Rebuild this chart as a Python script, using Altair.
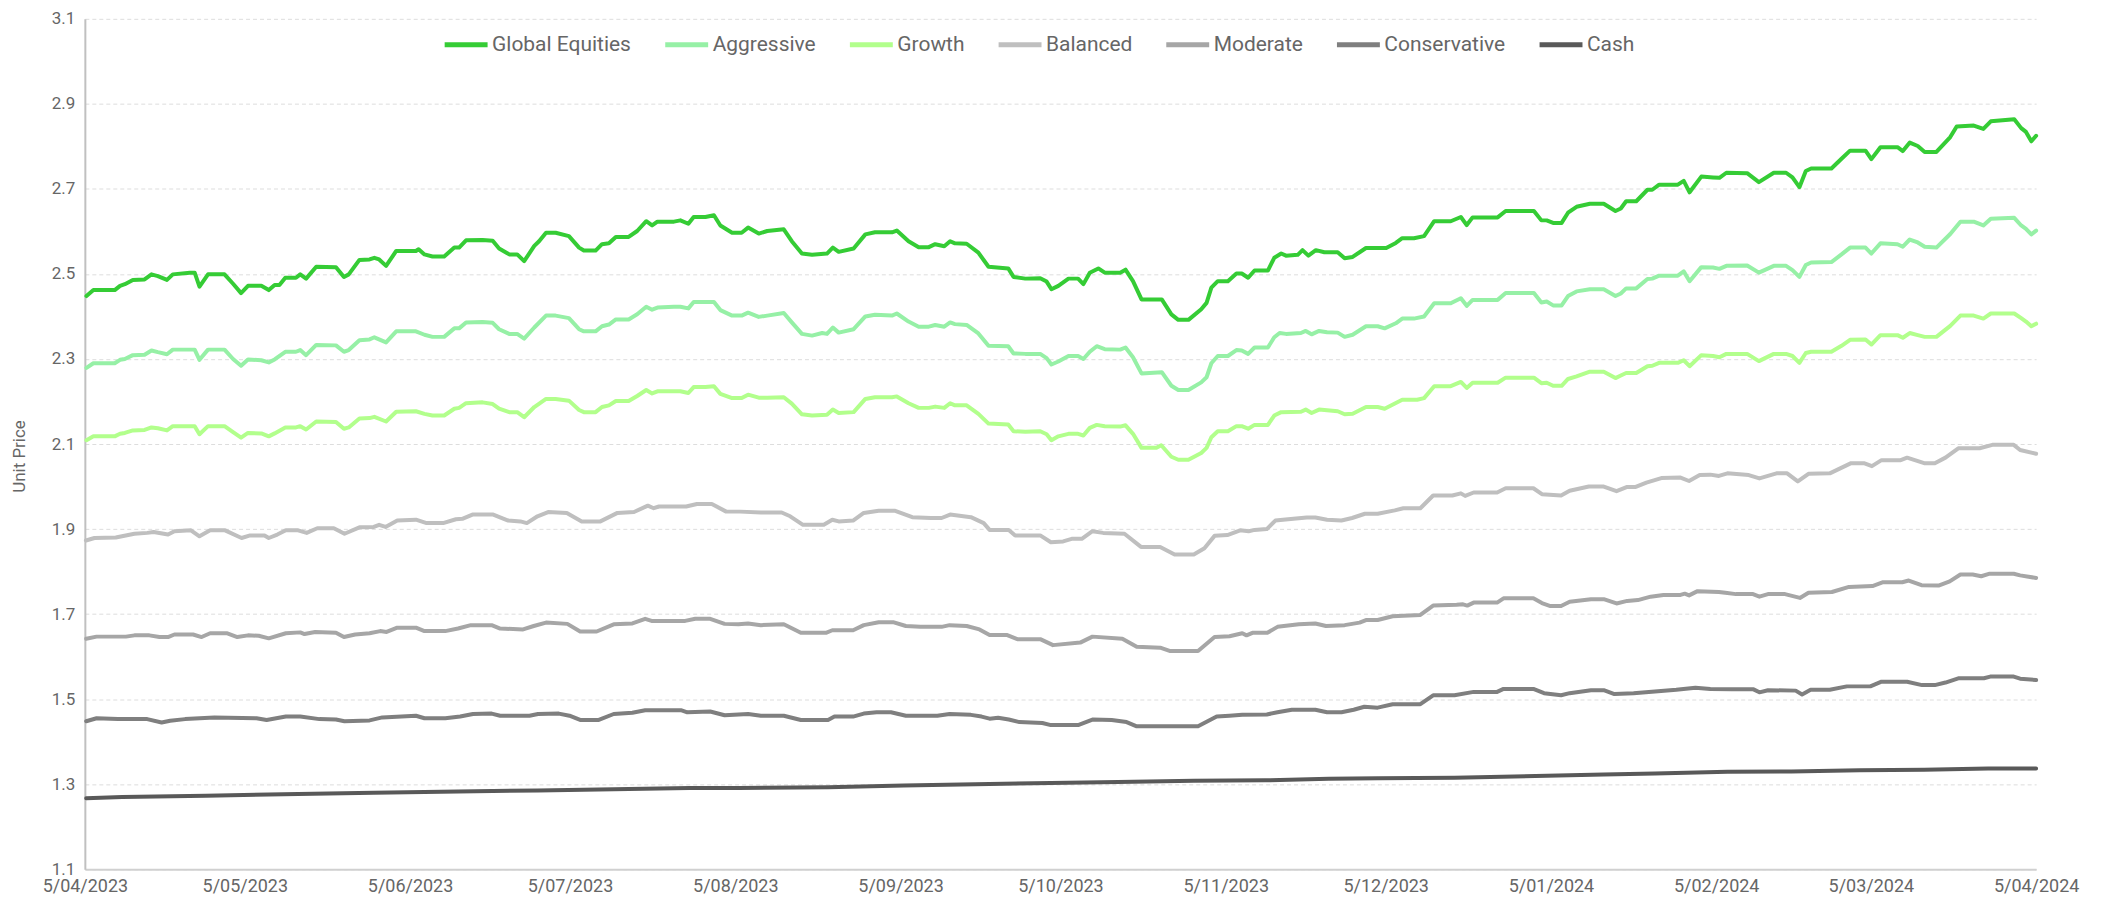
import altair as alt
import pandas as pd

# ---- data (day offset from 5/04/2023, unit price) ----
SERIES = ["Global Equities", "Aggressive", "Growth", "Balanced", "Moderate", "Conservative", "Cash"]
COLORS = ["#35CC35", "#96F0A6", "#B2FF8C", "#BFBFBF", "#A6A6A6", "#7F7F7F", "#595959"]
TICK_DATES = ["2023-04-05", "2023-05-05", "2023-06-05", "2023-07-05", "2023-08-05", "2023-09-05",
              "2023-10-05", "2023-11-05", "2023-12-05", "2024-01-05", "2024-02-05", "2024-03-05", "2024-04-05"]
Y_TICKS = [1.1, 1.3, 1.5, 1.7, 1.9, 2.1, 2.3, 2.5, 2.7, 2.9, 3.1]

global_equities = [
    (0.3, 2.448), (1.6, 2.462), (5.6, 2.462), (6.6, 2.472), (7.5, 2.476), (9.0, 2.486), (11.2, 2.487),
    (12.5, 2.499), (13.7, 2.495), (15.4, 2.486), (16.5, 2.499), (19.7, 2.503), (20.6, 2.503), (21.5, 2.470),
    (23.1, 2.499), (26.2, 2.499), (27.8, 2.477), (29.3, 2.455), (30.6, 2.472), (33.1, 2.472), (34.5, 2.462),
    (35.6, 2.474), (36.5, 2.474), (37.6, 2.491), (39.6, 2.491), (40.4, 2.499), (41.5, 2.489), (43.4, 2.517),
    (47.1, 2.516), (48.6, 2.493), (49.5, 2.499), (51.5, 2.533), (53.4, 2.534), (54.3, 2.538), (55.2, 2.534),
    (56.5, 2.519), (58.4, 2.554), (62.1, 2.554), (62.6, 2.558), (63.7, 2.546), (65.2, 2.541), (67.4, 2.541),
    (69.3, 2.562), (70.2, 2.562), (71.5, 2.579), (74.6, 2.580), (76.5, 2.578), (77.7, 2.560), (79.6, 2.546),
    (81.1, 2.546), (82.4, 2.530), (84.3, 2.566), (85.2, 2.577), (86.5, 2.597), (88.3, 2.597), (90.8, 2.589),
    (92.7, 2.562), (93.6, 2.555), (95.8, 2.555), (97.0, 2.570), (98.3, 2.572), (99.6, 2.587), (102.0, 2.587),
    (103.6, 2.601), (105.3, 2.624), (106.4, 2.614), (107.4, 2.623), (110.5, 2.623), (111.7, 2.626),
    (113.2, 2.618), (114.2, 2.634), (116.4, 2.634), (118.0, 2.638), (119.2, 2.614), (121.4, 2.597),
    (123.2, 2.597), (124.4, 2.609), (126.4, 2.595), (128.0, 2.601), (131.1, 2.605), (132.6, 2.577),
    (134.5, 2.548), (136.4, 2.545), (139.2, 2.548), (140.3, 2.562), (141.4, 2.552), (144.2, 2.560),
    (146.4, 2.593), (148.2, 2.598), (151.4, 2.598), (152.3, 2.602), (154.5, 2.577), (156.4, 2.563),
    (158.3, 2.563), (159.5, 2.570), (161.2, 2.565), (162.3, 2.577), (163.2, 2.572), (165.4, 2.571),
    (167.6, 2.550), (169.5, 2.517), (173.2, 2.513), (174.2, 2.493), (176.4, 2.489), (179.2, 2.490),
    (180.4, 2.482), (181.3, 2.464), (182.6, 2.472), (184.5, 2.489), (186.3, 2.489), (187.3, 2.476),
    (188.5, 2.503), (190.1, 2.513), (191.3, 2.503), (194.2, 2.503), (195.2, 2.510), (196.6, 2.483),
    (198.2, 2.440), (202.0, 2.440), (203.8, 2.405), (205.1, 2.392), (207.0, 2.392), (209.4, 2.417),
    (210.4, 2.432), (211.3, 2.468), (212.5, 2.483), (214.4, 2.483), (216.0, 2.501), (217.0, 2.501),
    (218.2, 2.491), (219.4, 2.508), (221.9, 2.508), (223.1, 2.538), (224.4, 2.548), (225.3, 2.543),
    (227.5, 2.545), (228.4, 2.556), (229.5, 2.543), (230.9, 2.556), (232.5, 2.551), (235.0, 2.551),
    (236.3, 2.537), (237.8, 2.540), (240.3, 2.561), (244.1, 2.561), (245.9, 2.573), (247.1, 2.584),
    (249.3, 2.584), (251.2, 2.589), (253.1, 2.624), (256.2, 2.624), (258.1, 2.634), (259.2, 2.615),
    (260.3, 2.633), (265.0, 2.633), (266.5, 2.648), (271.8, 2.648), (273.2, 2.626), (274.2, 2.626),
    (275.4, 2.620), (277.0, 2.620), (278.2, 2.644), (279.8, 2.658), (282.3, 2.665), (284.9, 2.665),
    (287.1, 2.648), (288.1, 2.654), (289.1, 2.671), (291.0, 2.671), (293.1, 2.698), (294.0, 2.698),
    (295.3, 2.710), (298.8, 2.710), (299.9, 2.719), (301.0, 2.692), (303.2, 2.729), (305.4, 2.727),
    (306.6, 2.726), (307.9, 2.738), (311.8, 2.737), (314.0, 2.716), (316.8, 2.738), (319.1, 2.738),
    (320.3, 2.727), (321.6, 2.704), (322.8, 2.742), (323.8, 2.748), (327.6, 2.748), (329.5, 2.771),
    (331.1, 2.790), (334.0, 2.790), (335.1, 2.770), (336.8, 2.798), (340.0, 2.798), (341.0, 2.789),
    (342.3, 2.809), (343.8, 2.801), (345.1, 2.787), (347.3, 2.787), (349.9, 2.822), (351.1, 2.847),
    (354.3, 2.849), (356.1, 2.841), (357.5, 2.859), (361.9, 2.864), (363.2, 2.843), (364.1, 2.834),
    (365.1, 2.812), (366.0, 2.825),
]

aggressive = [
    (0.3, 2.279), (1.6, 2.290), (5.6, 2.290), (6.6, 2.298), (7.5, 2.300), (9.0, 2.309), (11.2, 2.310),
    (12.5, 2.320), (13.7, 2.316), (15.4, 2.311), (16.5, 2.322), (20.6, 2.322), (21.5, 2.298), (23.1, 2.322),
    (26.2, 2.322), (27.8, 2.300), (29.3, 2.284), (30.6, 2.299), (33.1, 2.297), (34.5, 2.292), (35.6, 2.299),
    (37.6, 2.317), (39.6, 2.317), (40.4, 2.321), (41.5, 2.309), (43.4, 2.333), (47.1, 2.332), (48.6, 2.317),
    (49.5, 2.321), (51.5, 2.344), (53.4, 2.346), (54.3, 2.351), (56.5, 2.339), (58.4, 2.365), (62.1, 2.365),
    (63.7, 2.357), (65.2, 2.352), (67.4, 2.352), (69.3, 2.372), (70.2, 2.372), (71.5, 2.386), (74.6, 2.387),
    (76.5, 2.385), (77.7, 2.370), (79.6, 2.359), (81.1, 2.359), (82.4, 2.348), (84.3, 2.374), (86.5, 2.402),
    (88.3, 2.402), (90.8, 2.396), (92.7, 2.370), (93.6, 2.365), (95.8, 2.365), (97.0, 2.377), (98.3, 2.381),
    (99.6, 2.393), (102.0, 2.393), (103.6, 2.405), (105.3, 2.423), (106.4, 2.416), (107.4, 2.421),
    (110.5, 2.423), (111.7, 2.423), (113.2, 2.419), (114.2, 2.434), (118.0, 2.434), (119.2, 2.415),
    (121.4, 2.402), (123.2, 2.402), (124.4, 2.409), (126.4, 2.399), (128.0, 2.402), (131.1, 2.408),
    (132.6, 2.386), (134.5, 2.359), (136.4, 2.355), (138.3, 2.361), (139.2, 2.359), (140.3, 2.374),
    (141.4, 2.362), (144.2, 2.370), (146.4, 2.400), (148.2, 2.404), (151.4, 2.402), (152.3, 2.407),
    (154.5, 2.388), (156.4, 2.376), (158.3, 2.376), (159.5, 2.380), (161.2, 2.376), (162.3, 2.386),
    (163.2, 2.382), (165.4, 2.380), (167.6, 2.360), (169.5, 2.331), (173.2, 2.330), (174.2, 2.313),
    (176.4, 2.312), (179.2, 2.312), (180.4, 2.302), (181.3, 2.287), (182.6, 2.294), (184.5, 2.307),
    (186.3, 2.307), (187.3, 2.300), (188.5, 2.317), (189.8, 2.330), (191.3, 2.323), (194.2, 2.322),
    (195.2, 2.327), (196.6, 2.304), (198.2, 2.266), (202.0, 2.269), (203.8, 2.237), (205.1, 2.227),
    (207.0, 2.227), (209.4, 2.245), (210.4, 2.257), (211.3, 2.290), (212.5, 2.307), (214.4, 2.307),
    (216.0, 2.321), (217.0, 2.320), (218.2, 2.312), (219.4, 2.327), (221.9, 2.327), (223.1, 2.351),
    (224.1, 2.361), (225.3, 2.359), (228.1, 2.361), (229.0, 2.366), (230.1, 2.358), (231.5, 2.366),
    (233.0, 2.363), (235.0, 2.362), (236.3, 2.352), (237.8, 2.357), (240.3, 2.377), (242.5, 2.377),
    (243.8, 2.372), (245.9, 2.384), (247.1, 2.395), (249.3, 2.395), (251.2, 2.400), (253.1, 2.431),
    (256.2, 2.431), (258.1, 2.443), (259.2, 2.425), (260.3, 2.439), (265.0, 2.439), (266.5, 2.455),
    (271.8, 2.455), (273.2, 2.433), (274.2, 2.435), (275.4, 2.426), (277.0, 2.426), (278.2, 2.448),
    (279.8, 2.459), (282.3, 2.464), (284.9, 2.464), (287.1, 2.448), (288.1, 2.454), (289.1, 2.466),
    (291.0, 2.466), (293.1, 2.488), (294.0, 2.489), (295.3, 2.496), (298.8, 2.496), (299.9, 2.506),
    (301.0, 2.483), (303.2, 2.516), (305.4, 2.515), (306.6, 2.512), (307.9, 2.519), (311.8, 2.520),
    (314.0, 2.503), (316.8, 2.519), (319.1, 2.519), (320.3, 2.509), (321.6, 2.493), (322.8, 2.521),
    (323.8, 2.527), (327.6, 2.528), (329.5, 2.546), (331.1, 2.562), (334.0, 2.562), (335.1, 2.548),
    (336.8, 2.572), (340.0, 2.570), (341.0, 2.564), (342.3, 2.581), (343.8, 2.574), (345.1, 2.564),
    (347.3, 2.562), (349.9, 2.594), (351.8, 2.623), (354.3, 2.623), (356.1, 2.614), (357.5, 2.630),
    (361.9, 2.632), (363.2, 2.614), (364.1, 2.606), (365.1, 2.593), (366.0, 2.602),
]

growth = [
    (0.3, 2.109), (1.6, 2.118), (5.6, 2.118), (6.6, 2.124), (7.5, 2.126), (9.0, 2.132), (11.2, 2.133),
    (12.5, 2.139), (13.7, 2.137), (15.4, 2.132), (16.5, 2.142), (20.6, 2.142), (21.5, 2.123), (23.1, 2.142),
    (26.2, 2.142), (27.8, 2.128), (29.3, 2.115), (30.6, 2.126), (33.1, 2.125), (34.5, 2.118), (35.6, 2.125),
    (37.6, 2.139), (39.6, 2.139), (40.4, 2.142), (41.5, 2.134), (43.4, 2.153), (47.1, 2.152), (48.6, 2.136),
    (49.5, 2.139), (51.5, 2.160), (53.4, 2.161), (54.3, 2.164), (56.5, 2.153), (58.4, 2.176), (62.1, 2.177),
    (63.7, 2.171), (65.2, 2.167), (67.4, 2.167), (69.3, 2.183), (70.2, 2.185), (71.5, 2.196), (74.6, 2.198),
    (76.5, 2.194), (77.7, 2.183), (79.6, 2.175), (81.1, 2.175), (82.4, 2.163), (84.3, 2.187), (86.5, 2.206),
    (88.3, 2.206), (90.8, 2.202), (92.7, 2.180), (93.6, 2.175), (95.8, 2.175), (97.0, 2.187), (98.3, 2.191),
    (99.6, 2.201), (102.0, 2.201), (103.6, 2.213), (105.3, 2.227), (106.4, 2.219), (107.4, 2.224),
    (111.7, 2.224), (113.2, 2.220), (114.2, 2.234), (116.4, 2.234), (118.0, 2.236), (119.2, 2.218),
    (121.4, 2.208), (123.2, 2.208), (124.4, 2.216), (126.4, 2.209), (128.0, 2.209), (131.1, 2.210),
    (132.6, 2.195), (134.5, 2.170), (136.4, 2.167), (139.2, 2.169), (140.3, 2.181), (141.4, 2.173),
    (144.2, 2.175), (146.4, 2.206), (148.2, 2.210), (151.4, 2.210), (152.3, 2.212), (154.5, 2.196),
    (156.4, 2.185), (158.3, 2.185), (159.5, 2.188), (161.2, 2.185), (162.3, 2.196), (163.2, 2.191),
    (165.4, 2.191), (167.6, 2.171), (169.5, 2.148), (173.2, 2.146), (174.2, 2.130), (176.4, 2.129),
    (179.2, 2.130), (180.4, 2.123), (181.3, 2.109), (182.6, 2.118), (184.5, 2.124), (186.3, 2.124),
    (187.3, 2.120), (188.5, 2.138), (189.8, 2.145), (191.3, 2.142), (194.2, 2.141), (195.2, 2.144),
    (196.6, 2.124), (198.2, 2.091), (201.0, 2.091), (201.9, 2.097), (203.8, 2.070), (205.1, 2.063),
    (207.0, 2.063), (209.4, 2.079), (210.4, 2.091), (211.3, 2.116), (212.5, 2.130), (214.4, 2.130),
    (216.0, 2.142), (217.0, 2.142), (218.2, 2.136), (219.4, 2.145), (221.9, 2.145), (223.1, 2.167),
    (224.4, 2.175), (228.1, 2.176), (229.0, 2.181), (230.1, 2.173), (231.5, 2.181), (235.0, 2.177),
    (236.3, 2.170), (237.8, 2.171), (240.3, 2.187), (242.5, 2.187), (243.8, 2.183), (247.1, 2.204),
    (249.9, 2.204), (251.2, 2.208), (253.1, 2.236), (256.2, 2.236), (258.1, 2.246), (259.2, 2.232),
    (260.3, 2.244), (265.0, 2.244), (266.5, 2.256), (271.8, 2.256), (273.2, 2.243), (274.2, 2.244),
    (275.4, 2.237), (277.0, 2.237), (278.2, 2.253), (279.8, 2.259), (282.3, 2.270), (284.9, 2.270),
    (287.1, 2.255), (288.1, 2.261), (289.1, 2.267), (291.0, 2.267), (293.1, 2.283), (294.0, 2.284),
    (295.3, 2.291), (298.8, 2.291), (299.9, 2.297), (301.0, 2.283), (303.2, 2.309), (305.4, 2.307),
    (306.6, 2.304), (307.9, 2.312), (311.8, 2.312), (314.0, 2.295), (316.8, 2.312), (319.1, 2.312),
    (320.3, 2.307), (321.6, 2.291), (322.8, 2.314), (323.8, 2.317), (327.6, 2.317), (329.5, 2.331),
    (331.1, 2.345), (334.0, 2.346), (335.1, 2.334), (336.8, 2.356), (340.0, 2.356), (341.0, 2.350),
    (342.3, 2.361), (343.8, 2.356), (345.1, 2.352), (347.3, 2.352), (349.9, 2.378), (351.8, 2.402),
    (354.3, 2.402), (356.1, 2.395), (357.5, 2.407), (361.9, 2.407), (363.2, 2.396), (364.1, 2.388),
    (365.1, 2.377), (366.0, 2.383),
]

balanced = [
    (0.2, 1.873), (1.8, 1.879), (5.8, 1.880), (9.3, 1.889), (11.7, 1.891), (12.9, 1.893), (15.6, 1.887),
    (16.8, 1.895), (19.9, 1.897), (21.5, 1.883), (23.5, 1.897), (26.3, 1.897), (29.4, 1.879), (31.0, 1.885),
    (33.7, 1.885), (34.5, 1.879), (36.1, 1.887), (37.7, 1.897), (40.0, 1.897), (41.6, 1.891), (43.6, 1.902),
    (46.7, 1.902), (48.7, 1.889), (51.5, 1.904), (54.2, 1.905), (55.2, 1.910), (56.4, 1.905), (58.6, 1.920),
    (62.1, 1.922), (64.1, 1.914), (67.2, 1.914), (69.6, 1.923), (70.8, 1.924), (72.7, 1.934), (76.6, 1.934),
    (79.4, 1.920), (81.7, 1.918), (82.9, 1.914), (84.9, 1.930), (86.9, 1.940), (90.4, 1.938), (93.2, 1.918),
    (96.7, 1.918), (99.9, 1.938), (103.0, 1.940), (105.6, 1.955), (106.7, 1.949), (107.7, 1.953),
    (112.8, 1.953), (114.8, 1.959), (117.6, 1.959), (120.3, 1.941), (122.9, 1.941), (126.8, 1.939),
    (130.7, 1.939), (132.3, 1.930), (134.7, 1.910), (138.6, 1.910), (140.2, 1.922), (141.4, 1.918),
    (144.1, 1.920), (146.1, 1.938), (148.9, 1.943), (152.0, 1.943), (155.2, 1.928), (158.7, 1.926),
    (160.7, 1.926), (162.3, 1.934), (166.2, 1.928), (168.6, 1.914), (169.7, 1.898), (173.3, 1.898),
    (174.5, 1.885), (179.2, 1.885), (181.2, 1.869), (183.5, 1.871), (185.1, 1.877), (187.0, 1.877),
    (189.0, 1.895), (191.0, 1.891), (195.0, 1.889), (198.1, 1.858), (201.7, 1.858), (204.4, 1.840),
    (208.0, 1.840), (210.0, 1.855), (211.9, 1.884), (214.3, 1.886), (216.7, 1.897), (218.3, 1.895),
    (219.4, 1.898), (221.7, 1.900), (223.3, 1.920), (225.7, 1.923), (229.2, 1.927), (230.8, 1.927),
    (233.0, 1.922), (235.7, 1.920), (237.7, 1.926), (240.1, 1.936), (242.5, 1.936), (245.7, 1.944),
    (247.3, 1.949), (250.5, 1.949), (252.9, 1.979), (256.5, 1.979), (258.1, 1.984), (258.9, 1.978),
    (260.5, 1.986), (264.9, 1.986), (266.5, 1.996), (271.7, 1.996), (273.3, 1.982), (276.9, 1.979),
    (278.5, 1.990), (282.1, 2.000), (284.9, 2.000), (287.3, 1.989), (289.3, 1.999), (290.9, 1.999),
    (292.9, 2.009), (295.7, 2.020), (299.3, 2.021), (300.9, 2.013), (302.9, 2.027), (304.9, 2.028),
    (306.5, 2.025), (308.1, 2.031), (312.1, 2.027), (314.1, 2.019), (317.3, 2.031), (319.3, 2.031),
    (321.3, 2.012), (323.3, 2.030), (327.3, 2.031), (331.3, 2.055), (333.7, 2.055), (335.2, 2.048),
    (337.0, 2.062), (340.6, 2.062), (341.8, 2.068), (345.0, 2.055), (347.0, 2.055), (349.0, 2.068),
    (351.4, 2.090), (355.4, 2.090), (357.8, 2.098), (361.8, 2.098), (363.0, 2.086), (366.0, 2.077),
]

moderate = [
    (0.25, 1.642), (2.2, 1.647), (7.7, 1.647), (9.3, 1.650), (12.1, 1.650), (14.0, 1.646), (15.6, 1.646),
    (16.8, 1.652), (20.3, 1.652), (21.9, 1.646), (23.5, 1.655), (26.6, 1.655), (28.6, 1.646), (30.6, 1.650),
    (32.6, 1.649), (34.5, 1.643), (37.7, 1.655), (40.4, 1.657), (41.2, 1.653), (43.2, 1.658), (47.1, 1.656),
    (48.6, 1.646), (50.7, 1.652), (53.4, 1.655), (55.4, 1.660), (56.6, 1.658), (58.6, 1.668), (62.1, 1.668),
    (63.7, 1.660), (67.6, 1.660), (70.0, 1.666), (72.4, 1.674), (76.3, 1.674), (77.9, 1.666), (82.2, 1.664),
    (84.2, 1.672), (86.5, 1.680), (90.5, 1.677), (92.9, 1.659), (96.0, 1.659), (99.2, 1.676), (102.7, 1.678),
    (105.1, 1.689), (106.3, 1.684), (112.6, 1.684), (114.5, 1.689), (117.3, 1.689), (120.0, 1.677),
    (122.6, 1.676), (124.4, 1.678), (126.8, 1.674), (131.1, 1.676), (134.3, 1.656), (139.0, 1.656),
    (140.2, 1.662), (144.1, 1.662), (146.1, 1.674), (148.9, 1.681), (151.6, 1.681), (154.0, 1.672),
    (156.7, 1.670), (160.7, 1.670), (162.2, 1.674), (165.4, 1.672), (167.8, 1.664), (169.7, 1.651),
    (172.9, 1.651), (174.9, 1.641), (179.2, 1.641), (181.6, 1.627), (186.7, 1.633), (189.0, 1.647),
    (194.6, 1.642), (197.3, 1.623), (201.7, 1.621), (203.6, 1.613), (208.8, 1.613), (211.9, 1.646),
    (214.7, 1.648), (217.1, 1.655), (217.9, 1.650), (219.0, 1.656), (221.8, 1.656), (223.7, 1.670),
    (227.7, 1.676), (230.8, 1.678), (232.8, 1.672), (236.3, 1.674), (239.1, 1.680), (240.3, 1.686),
    (242.5, 1.686), (245.3, 1.695), (250.5, 1.698), (252.9, 1.720), (257.3, 1.722), (258.5, 1.723),
    (259.3, 1.720), (260.5, 1.727), (264.9, 1.727), (266.1, 1.737), (271.7, 1.737), (273.3, 1.726),
    (274.9, 1.719), (276.9, 1.719), (278.5, 1.729), (282.5, 1.735), (284.9, 1.735), (287.3, 1.725),
    (289.3, 1.731), (291.3, 1.733), (293.7, 1.741), (296.1, 1.745), (299.3, 1.745), (300.1, 1.748),
    (300.9, 1.744), (302.5, 1.754), (306.5, 1.752), (307.7, 1.750), (309.7, 1.747), (312.9, 1.747),
    (314.1, 1.741), (315.7, 1.747), (318.9, 1.747), (321.7, 1.738), (323.3, 1.750), (327.7, 1.752),
    (330.9, 1.764), (335.3, 1.766), (337.3, 1.775), (340.9, 1.775), (342.1, 1.779), (344.5, 1.768),
    (347.7, 1.767), (349.8, 1.777), (351.8, 1.793), (354.1, 1.793), (355.7, 1.789), (357.3, 1.795),
    (361.8, 1.795), (363.0, 1.791), (366.0, 1.785),
]

conservative = [
    (0.25, 1.448), (2.2, 1.455), (6.2, 1.453), (11.7, 1.453), (14.4, 1.445), (16.0, 1.449), (18.8, 1.453),
    (24.3, 1.457), (32.2, 1.455), (34.1, 1.451), (37.7, 1.459), (40.4, 1.459), (44.0, 1.453), (47.1, 1.452),
    (48.7, 1.448), (53.4, 1.450), (55.8, 1.457), (62.1, 1.461), (63.7, 1.455), (67.6, 1.455), (70.4, 1.459),
    (72.8, 1.465), (76.3, 1.466), (77.9, 1.461), (83.4, 1.461), (85.0, 1.465), (88.9, 1.466), (90.9, 1.461),
    (92.9, 1.451), (96.4, 1.451), (99.2, 1.465), (102.7, 1.468), (105.1, 1.474), (111.8, 1.474),
    (113.0, 1.469), (117.3, 1.471), (120.0, 1.462), (124.4, 1.465), (126.8, 1.461), (131.1, 1.461),
    (134.3, 1.451), (139.4, 1.451), (140.6, 1.459), (144.1, 1.459), (146.1, 1.466), (148.5, 1.469),
    (151.2, 1.469), (154.0, 1.461), (159.9, 1.461), (162.2, 1.465), (166.2, 1.463), (168.2, 1.459),
    (169.7, 1.454), (171.3, 1.456), (173.3, 1.452), (175.3, 1.446), (179.6, 1.444), (181.2, 1.439),
    (186.3, 1.439), (189.0, 1.452), (192.6, 1.451), (195.4, 1.446), (197.3, 1.436), (208.8, 1.436),
    (212.3, 1.459), (214.7, 1.461), (217.1, 1.463), (221.7, 1.464), (223.7, 1.469), (226.4, 1.475),
    (230.8, 1.475), (233.0, 1.469), (235.7, 1.469), (238.0, 1.475), (240.0, 1.482), (242.5, 1.480),
    (245.3, 1.488), (250.5, 1.488), (252.9, 1.509), (256.9, 1.509), (260.5, 1.517), (264.9, 1.517),
    (266.1, 1.524), (271.7, 1.524), (273.7, 1.514), (276.9, 1.509), (278.5, 1.514), (282.5, 1.521),
    (284.9, 1.521), (286.9, 1.512), (290.5, 1.514), (294.5, 1.518), (298.5, 1.522), (302.1, 1.527),
    (304.9, 1.524), (309.0, 1.523), (313.0, 1.523), (314.1, 1.516), (315.7, 1.521), (320.9, 1.520),
    (322.1, 1.511), (323.7, 1.522), (327.3, 1.522), (330.5, 1.530), (334.9, 1.530), (337.0, 1.541),
    (341.8, 1.541), (344.6, 1.533), (347.0, 1.533), (349.0, 1.539), (351.4, 1.549), (356.2, 1.549),
    (357.4, 1.553), (361.8, 1.553), (363.0, 1.548), (366.0, 1.545),
]

cash = [
    (0.25, 1.267), (7.0, 1.270), (22.7, 1.273), (40.0, 1.277), (54.2, 1.280), (70.0, 1.283), (85.0, 1.285),
    (99.2, 1.288), (113.4, 1.291), (122.6, 1.291), (139.4, 1.293), (153.6, 1.297), (167.0, 1.300),
    (181.2, 1.303), (193.8, 1.305), (208.0, 1.308), (221.4, 1.309), (233.3, 1.313), (242.6, 1.314),
    (256.9, 1.315), (272.1, 1.319), (284.9, 1.323), (294.5, 1.325), (308.1, 1.329), (320.1, 1.330),
    (332.9, 1.333), (345.0, 1.334), (357.0, 1.337), (366.0, 1.337),
]

# ---- build long table ----
BASE = pd.Timestamp("2023-04-05", tz="UTC")
DAY_MS = 86400000
base_ms = int(BASE.value // 1_000_000)

rows = []
for name, pts in zip(SERIES, [global_equities, aggressive, growth, balanced, moderate, conservative, cash]):
    for i, (d, v) in enumerate(pts):
        rows.append({"series": name, "t": base_ms + int(round(d * DAY_MS)), "value": v, "order": i})
df = pd.DataFrame(rows)

tick_ms = [int(pd.Timestamp(s, tz="UTC").value // 1_000_000) for s in TICK_DATES]

FONT = "Roboto"
TXT = "#666666"

chart = alt.Chart(df).mark_line(strokeWidth=4, strokeCap="round", strokeJoin="round").encode(
    x=alt.X("t:T",
            scale=alt.Scale(type="utc", domain=[tick_ms[0], tick_ms[-1]]),
            axis=alt.Axis(title=None, values=tick_ms, grid=False, ticks=False, tickSize=0,
                          labelExpr="utcFormat(datum.value, '%-d/%m/%Y')",
                          labelFont=FONT, labelFontSize=18, labelColor=TXT, labelPadding=8,
                          domainColor="#D0D0D0", domainWidth=2, labelFlush=False, labelOverlap=False)),
    y=alt.Y("value:Q",
            scale=alt.Scale(domain=[1.1, 3.1], nice=False, zero=False),
            axis=alt.Axis(title="Unit Price", values=Y_TICKS, format=".1f", ticks=False, tickSize=0,
                          grid=True, gridColor="#DDDDDD", gridDash=[4, 3], gridWidth=1,
                          domainColor="#C0C0C0", domainWidth=2,
                          labelFont=FONT, labelFontSize=17, labelColor=TXT, labelPadding=10,
                          titleFont=FONT, titleFontSize=17, titleColor=TXT, titleFontWeight="normal",
                          titleX=-65, titleY=438, titleAngle=-90, titleBaseline="middle", titleAlign="center")),
    color=alt.Color("series:N",
                    scale=alt.Scale(domain=SERIES, range=COLORS),
                    legend=alt.Legend(orient="none", legendX=358, legendY=2, direction="horizontal",
                                      columns=7, title=None, symbolType="stroke", symbolStrokeWidth=5,
                                      symbolSize=1849, labelFont=FONT, labelFontSize=21, labelColor=TXT,
                                      labelOffset=2, columnPadding=23, padding=0)),
    order="order:Q",
).properties(
    width=1955, height=852,
    autosize=alt.AutoSizeParams(type="none"),
    padding={"left": 77, "top": 10, "right": 60, "bottom": 30},
).configure_view(stroke=None)

chart.save("out.html", embed_options={"renderer": "svg", "actions": False})
